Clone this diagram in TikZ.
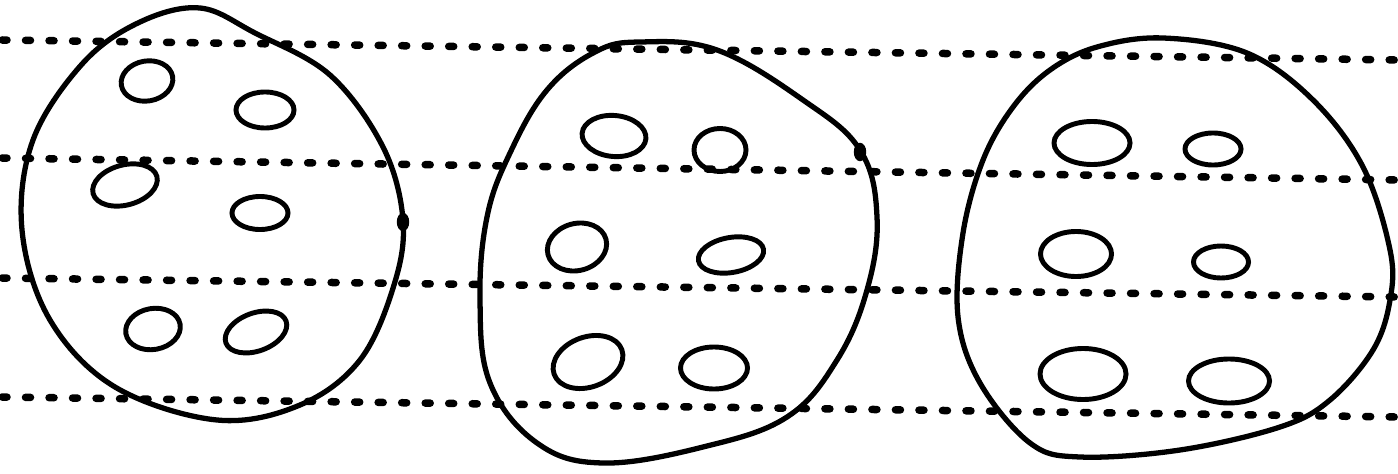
\documentclass[tikz,border=0pt]{standalone}
\usetikzlibrary{shapes.geometric}

\begin{document}
\begin{tikzpicture}
[
	x=0.01cm,y=-0.01cm,
	blob/.style={draw,line width=1.5pt,line join=round},
	oval/.style={ellipse,draw,line width=1.4pt,inner sep=0pt},
	closedpt/.style={ellipse,draw,fill,inner sep=0pt,minimum width=0.11cm,minimum height=0.17cm},
	dotline/.style={line width=0.075cm,line cap=round,dash pattern=on 0.05cm off 0.185cm}
]
	\useasboundingbox (0,0) rectangle (1398,473);

	% ruled lines
	\draw[dotline] (2,40) -- (1398,60);
	\draw[dotline] (2,158) -- (1398,180);
	\draw[dotline] (2,278) -- (1398,297);
	\draw[dotline] (2,397) -- (1398,417);

	% first cell
	\draw[blob] plot[smooth cycle,tension=0.6] coordinates {
		(200,8) (255,33) (330,75) (383,147) (403,220) (394,285)
		(360,360) (300,405) (217,420) (115,387) (50,320) (22,230)
		(33,140) (83,63) (140,22)};
	\node[closedpt] (pin1) at (403,222) {};
	\node[oval,minimum width=0.52cm,minimum height=0.40cm,rotate=10] (a1) at (147,81) {};
	\node[oval,minimum width=0.58cm,minimum height=0.36cm] (a2) at (265,110) {};
	\node[oval,minimum width=0.66cm,minimum height=0.40cm,rotate=15] (a3) at (125,185) {};
	\node[oval,minimum width=0.56cm,minimum height=0.33cm] (a4) at (260,213) {};
	\node[oval,minimum width=0.55cm,minimum height=0.41cm,rotate=10] (a5) at (153,329) {};
	\node[oval,minimum width=0.64cm,minimum height=0.38cm,rotate=20] (a6) at (256,332) {};

	% second cell
	\draw[blob] plot[smooth cycle,tension=0.65] coordinates {
		(640,42) (717,50) (803,100) (860,150) (877,217) (867,290)
		(837,360) (787,417) (703,447) (603,463) (537,443) (490,383)
		(480,300) (487,217) (510,153) (547,90) (595,52)};
	\node[closedpt] (pin2) at (860,152) {};
	\node[oval,minimum width=0.64cm,minimum height=0.41cm,rotate=-5] (b1) at (614,136) {};
	\node[oval,minimum width=0.52cm,minimum height=0.43cm] (b2) at (720,150) {};
	\node[oval,minimum width=0.60cm,minimum height=0.47cm,rotate=15] (b3) at (577,247) {};
	\node[oval,minimum width=0.66cm,minimum height=0.35cm,rotate=10] (b4) at (731,255) {};
	\node[oval,minimum width=0.72cm,minimum height=0.50cm,rotate=20] (b5) at (588,362) {};
	\node[oval,minimum width=0.67cm,minimum height=0.42cm] (b6) at (714,368) {};

	% third cell
	\draw[blob] plot[smooth cycle,tension=0.6] coordinates {
		(1163,38) (1247,53) (1313,100) (1363,167) (1390,250) (1390,300)
		(1373,350) (1330,400) (1280,427) (1180,450) (1080,457) (1030,443)
		(980,383) (958,317) (963,233) (983,160) (1013,107) (1050,70) (1097,47)};
	\node[oval,minimum width=0.76cm,minimum height=0.43cm] (c1) at (1092,143) {};
	\node[oval,minimum width=0.56cm,minimum height=0.32cm] (c2) at (1213,149) {};
	\node[oval,minimum width=0.71cm,minimum height=0.45cm] (c3) at (1076,254) {};
	\node[oval,minimum width=0.55cm,minimum height=0.32cm] (c4) at (1221,262) {};
	\node[oval,minimum width=0.86cm,minimum height=0.51cm] (c5) at (1083,374) {};
	\node[oval,minimum width=0.81cm,minimum height=0.44cm] (c6) at (1229,381) {};

\end{tikzpicture}
\end{document}
